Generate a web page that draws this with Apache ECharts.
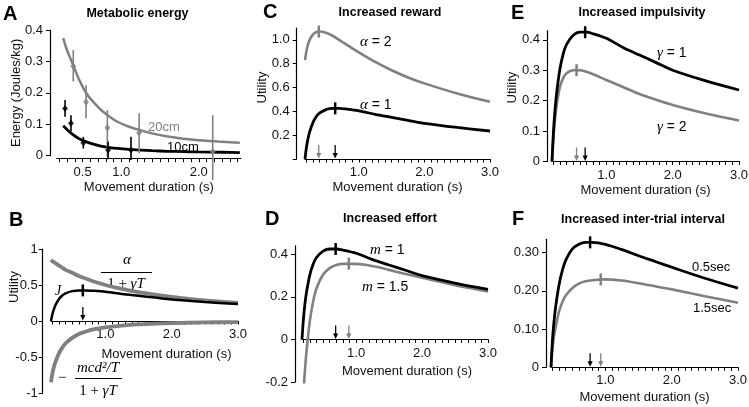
<!DOCTYPE html>
<html><head><meta charset="utf-8">
<script src="https://cdn.jsdelivr.net/npm/echarts@6.0.0/dist/echarts.min.js"></script>
<style>html,body{margin:0;padding:0;background:#fff}#c{width:749px;height:407px}</style>
</head><body><div id="c"></div>
<script>
// ---------- Panel A: metabolic energy ----------
const durA        = [0.25,0.3,0.38,0.45,0.55,0.65,0.75,0.85,0.95,1.1,1.25,1.4,1.6,1.8,2.0,2.3,2.53];
const energyFit20 = [0.374,0.335,0.288,0.245,0.198,0.168,0.143,0.124,0.108,0.092,0.081,0.071,0.061,0.054,0.049,0.044,0.041];
const energyFit10 = [0.095,0.083,0.066,0.055,0.044,0.036,0.030,0.026,0.023,0.020,0.018,0.016,0.014,0.013,0.012,0.011,0.010];
const dur10    = [0.274,0.35,0.51,0.83,1.125];
const energy10 = [0.150,0.103,0.041,0.018,0.018];
const lo10     = [0.124,0.077,0.023,-0.011,-0.014];
const hi10     = [0.177,0.129,0.060,0.044,0.060];
const dur20    = [0.38,0.545,0.82,1.23,2.18];
const energy20 = [0.285,0.171,0.089,0.073,0.013];
const lo20     = [0.236,0.119,-0.003,0.008,-0.077];
const hi20     = [0.336,0.224,0.145,0.135,0.129];
const xLabelsA = [0.5,1.0,2.0];
const yTicksA  = [0,0.1,0.2,0.3,0.4];

// ---------- Panels B-F: utility vs movement duration ----------
const dur         = [0.18,0.2,0.22,0.25,0.3,0.35,0.4,0.5,0.6,0.7,0.8,1.0,1.25,1.5,1.75,2.0,2.5,3.0];
const utility     = [0,0.09,0.155,0.225,0.305,0.355,0.385,0.415,0.425,0.425,0.42,0.405,0.375,0.35,0.325,0.30,0.265,0.235];
const rewardTerm  = [0.85,0.83,0.82,0.80,0.77,0.74,0.71,0.67,0.625,0.59,0.555,0.50,0.445,0.40,0.365,0.335,0.285,0.25];
const effortTerm  = [-0.85,-0.73,-0.65,-0.56,-0.45,-0.37,-0.31,-0.235,-0.18,-0.148,-0.12,-0.088,-0.063,-0.047,-0.036,-0.029,-0.02,-0.015];
const utilAlpha2  = [0.83,0.90,0.95,1.0,1.045,1.065,1.07,1.06,1.035,1.0,0.965,0.895,0.815,0.745,0.685,0.635,0.55,0.48];
const utilM15     = [null,-0.27,-0.165,-0.05,0.09,0.18,0.24,0.305,0.335,0.35,0.355,0.355,0.345,0.327,0.308,0.29,0.255,0.226];
const utilGamma2  = [0,0.075,0.125,0.185,0.245,0.275,0.29,0.30,0.30,0.295,0.287,0.268,0.245,0.222,0.203,0.186,0.158,0.135];
const utilITI05   = [0,0.066,0.11,0.158,0.215,0.253,0.279,0.309,0.322,0.327,0.327,0.322,0.308,0.292,0.277,0.262,0.233,0.207];
const utilITI15   = [0,0.045,0.075,0.105,0.145,0.17,0.187,0.207,0.219,0.225,0.228,0.230,0.227,0.22,0.212,0.204,0.186,0.169];

// optimal durations [black, gray] and utilities at them
const peakDurB = [0.66];        const peakUtilB = [0.425];
const peakDurC = [0.64, 0.39];  const peakUtilC = [0.425, 1.07];
const peakDurD = [0.69, 0.89];  const peakUtilD = [0.425, 0.356];
const peakDurE = [0.68, 0.55];  const peakUtilE = [0.425, 0.30];
const peakDurF = [0.77, 0.93];  const peakUtilF = [0.327, 0.230];

const xLabels = [1,2,3];
const yTicksB = [-1,-0.5,0,0.5,1];
const yTicksC = [0,0.2,0.4,0.6,0.8,1.0];
const yLabelsC = [0.2,0.4,0.6,0.8,1.0];
const yTicksD = [-0.2,0,0.2,0.4];
const yTicksE = [0,0.1,0.2,0.3,0.4];
const yTicksF = [0,0.1,0.2,0.3];

// ---------- styling ----------
const GRAY = '#808080', INK = '#000';
const SANS = '"Liberation Sans", Arial, sans-serif';
const SERIF = '"Liberation Serif", "DejaVu Serif", serif';

const ticksFrom = (a, b) => { const r = []; for (let k = Math.round(a*10); k <= Math.round(b*10); k++) r.push(k/10); return r; };
const pair = (xs, ys) => xs.map((x, i) => [x, ys[i]]);

const grids = [
  {left:56.7, top:30,    width:184.3, height:125.7},
  {left:51,   top:249,   width:187,   height:144},
  {left:305,  top:28,    width:185,   height:131},
  {left:302,  top:245.8, width:186,   height:136.3},
  {left:552,  top:30.7,  width:187,   height:130.8},
  {left:551,  top:239.3, width:187,   height:128}
].map(g => Object.assign(g, {outerBoundsMode:'none', containLabel:false}));

// y ranges per panel
const yRange = [[0,0.4],[-1,1],[0,1.1],[-0.2,0.44],[0,0.43],[0,0.335]];
// x axis sits at utility 0: shift it up from the grid bottom by the scale position of 0
const zeroShift = gi => -grids[gi].height * (0 - yRange[gi][0]) / (yRange[gi][1] - yRange[gi][0]);

const axLine = () => ({show:true, onZero:false, lineStyle:{color:INK, width:1.2}});
const lblStyle = {color:'#111', fontSize:13, fontFamily:SANS};

function mkX(gi, min, max, labels, o) {
  return {
    gridIndex: gi, type:'value', min, max, position:'bottom',
    axisLine: axLine(),
    offset: o.offset != null ? o.offset : zeroShift(gi),
    axisTick: {show:true, customValues: ticksFrom(0.2, max >= 2.9 ? 3.0 : 2.5), length:3.5, lineStyle:{color:INK, width:1}},
    axisLabel: Object.assign({customValues: labels, formatter: v => v.toFixed(1), margin: 7}, lblStyle),
    splitLine: {show:false},
    name: 'Movement duration (s)', nameLocation:'middle', nameGap: o.nameGap || 22, nameMoveOverlap:false,
    nameTextStyle: Object.assign({}, lblStyle, {padding: o.namePad || 0})
  };
}
function mkY(gi, ticks, labels, fmt, o) {
  return {
    gridIndex: gi, type:'value', min: yRange[gi][0], max: yRange[gi][1], offset: o.offset, position:'left',
    axisLine: axLine(),
    axisTick: {show:true, customValues: ticks, length:4, lineStyle:{color:INK, width:1}},
    axisLabel: Object.assign({customValues: labels, formatter: fmt, margin: o.margin || 7}, lblStyle),
    splitLine: {show:false},
    name: o.name || '', nameLocation:'middle', nameGap: o.nameGap || 28, nameMoveOverlap:false,
    nameTextStyle: Object.assign({}, lblStyle, {padding: o.namePad || 0})
  };
}

const f1 = v => v === 0 ? '0' : v.toFixed(1);
const xAxes = [
  mkX(0, 0.166, 2.545, xLabelsA, {offset:3, nameGap:22}),
  mkX(1, 0.18, 3.0, xLabels, {nameGap:27, namePad:[0,0,0,44]}),
  mkX(2, 0.18, 3.0, xLabels, {nameGap:22}),
  mkX(3, 0.18, 3.0, xLabels, {nameGap:25, namePad:[0,0,0,24]}),
  mkX(4, 0.18, 3.0, xLabels, {nameGap:22}),
  mkX(5, 0.18, 3.0, xLabels, {nameGap:24})
];
const yAxes = [
  mkY(0, yTicksA, yTicksA, f1, {offset:6.7, name:'Energy (Joules/kg)', nameGap:27}),
  mkY(1, yTicksB, yTicksB, v => String(v), {offset:8.3, margin:5, name:'Utility', nameGap:22, namePad:[0,0,0,68]}),
  mkY(2, yTicksC, yLabelsC, v => v.toFixed(1), {offset:8.3, name:'Utility', nameGap:28, namePad:[0,0,0,12]}),
  mkY(3, yTicksD, yTicksD, f1, {offset:7}),
  mkY(4, yTicksE, yTicksE, f1, {offset:5, name:'Utility', nameGap:28, namePad:[0,0,0,17]}),
  mkY(5, yTicksF, yTicksF, v => v === 0 ? '0' : v.toFixed(2), {offset:5})
];

function curve(gi, xs, ys, color, width, z) {
  return {type:'line', xAxisIndex:gi, yAxisIndex:gi, data: pair(xs, ys), showSymbol:false, smooth:0.3,
    connectNulls:false, silent:true, z: z || 2, lineStyle:{color, width}, itemStyle:{color}};
}
function peaks(gi, xs, ys, colors) {
  return {type:'custom', xAxisIndex:gi, yAxisIndex:gi, silent:true, z:5,
    data: xs.map((x, i) => [x, ys[i], i]),
    renderItem(params, api) {
      const p = api.coord([api.value(0), api.value(1)]);
      return {type:'line', shape:{x1:p[0], y1:p[1]-6, x2:p[0], y2:p[1]+6},
        style:{stroke: colors[api.value(2)], lineWidth:2.5}};
    }};
}
function arrows(gi, xs, colors) {
  return {type:'custom', xAxisIndex:gi, yAxisIndex:gi, silent:true, z:5,
    data: xs.map((x, i) => [x, 0, i]),
    renderItem(params, api) {
      const p = api.coord([api.value(0), 0]);
      const c = colors[api.value(2)];
      return {type:'group', children:[
        {type:'line', shape:{x1:p[0], y1:p[1]-14, x2:p[0], y2:p[1]-4}, style:{stroke:c, lineWidth:1.3}},
        {type:'polygon', shape:{points:[[p[0]-2.6,p[1]-6],[p[0]+2.6,p[1]-6],[p[0],p[1]-0.5]]}, style:{fill:c}}
      ]};
    }};
}
function errBars(gi, xs, lo, hi, color) {
  return {type:'custom', xAxisIndex:gi, yAxisIndex:gi, silent:true, z:3, clip:false,
    data: xs.map((x, i) => [x, lo[i], hi[i]]),
    renderItem(params, api) {
      const a = api.coord([api.value(0), api.value(1)]);
      const b = api.coord([api.value(0), api.value(2)]);
      return {type:'line', shape:{x1:a[0], y1:a[1], x2:b[0], y2:b[1]}, style:{stroke:color, lineWidth:1.6}};
    }};
}
function points(gi, xs, ys, color) {
  return {type:'scatter', xAxisIndex:gi, yAxisIndex:gi, silent:true, z:4, data: pair(xs, ys),
    symbol:'diamond', symbolSize:[6,7], itemStyle:{color}};
}

const series = [
  // A
  curve(0, durA, energyFit20, GRAY, 2.5),
  curve(0, durA, energyFit10, INK, 2.8),
  errBars(0, dur20, lo20, hi20, GRAY),
  errBars(0, dur10, lo10, hi10, INK),
  points(0, dur20, energy20, GRAY),
  points(0, dur10, energy10, INK),
  // B
  curve(1, dur, rewardTerm, GRAY, 3.8),
  curve(1, dur, effortTerm, GRAY, 3.8),
  curve(1, dur, utility, INK, 2.5, 3),
  peaks(1, peakDurB, peakUtilB, [INK]),
  arrows(1, peakDurB, [INK]),
  // C
  curve(2, dur, utilAlpha2, GRAY, 2.6),
  curve(2, dur, utility, INK, 2.8),
  peaks(2, peakDurC, peakUtilC, [INK, GRAY]),
  arrows(2, peakDurC, [INK, GRAY]),
  // D
  curve(3, dur, utilM15, GRAY, 2.6),
  curve(3, dur, utility, INK, 2.8, 3),
  peaks(3, peakDurD, peakUtilD, [INK, GRAY]),
  arrows(3, peakDurD, [INK, GRAY]),
  // E
  curve(4, dur, utilGamma2, GRAY, 2.6),
  curve(4, dur, utility, INK, 2.8, 3),
  peaks(4, peakDurE, peakUtilE, [INK, GRAY]),
  arrows(4, peakDurE, [INK, GRAY]),
  // F
  curve(5, dur, utilITI15, GRAY, 2.6),
  curve(5, dur, utilITI05, INK, 2.8, 3),
  peaks(5, peakDurF, peakUtilF, [INK, GRAY]),
  arrows(5, peakDurF, [INK, GRAY])
];

// ---------- text annotations ----------
const txt = (x, y, text, font, fill, align, rich) => ({type:'text', x, y, silent:true,
  style:{text, font, fill: fill || INK, align: align || 'left', verticalAlign:'middle', rich: rich || undefined}});
const hline = (x1, x2, y, color) => ({type:'line', silent:true, shape:{x1, y1:y, x2, y2:y}, style:{stroke: color || INK, lineWidth:1}});
const LETTER = 'bold 20px ' + SANS;
const TITLE = 'bold 12.5px ' + SANS;
const MATH = 'italic 15px ' + SERIF;
const richI = {i:{font: MATH, fill: INK}};
const richU = {u:{font: '15px ' + SERIF, fill: INK}, i:{font: MATH, fill: INK}};

const graphic = [
  txt(3, 14, 'A', LETTER), txt(9, 220.5, 'B', LETTER), txt(263, 12.5, 'C', LETTER),
  txt(265, 219.5, 'D', LETTER), txt(511, 13.5, 'E', LETTER), txt(512, 219.5, 'F', LETTER),
  txt(137.5, 14, 'Metabolic energy', TITLE, INK, 'center'),
  txt(390, 13, 'Increased reward', TITLE, INK, 'center'),
  txt(390, 219, 'Increased effort', TITLE, INK, 'center'),
  txt(642, 13, 'Increased impulsivity', TITLE, INK, 'center'),
  txt(643, 219.5, 'Increased inter-trial interval', TITLE, INK, 'center'),
  // A
  txt(148, 127, '20cm', '13px ' + SANS, GRAY),
  txt(167, 147, '10cm', '13px ' + SANS, INK),
  // B
  txt(127, 260, 'α', MATH, INK, 'center'),
  hline(101, 152, 272.5),
  txt(126, 284, '{u|1 + }{i|γT}', MATH, INK, 'center', richU),
  txt(55, 291, 'J', 'italic 14px ' + SERIF),
  txt(58, 378, '−', '15px ' + SERIF),
  txt(98, 368, 'mcd²/T', MATH, INK, 'center'),
  hline(75, 122, 378.5),
  txt(98, 391, '{u|1 + }{i|γT}', MATH, INK, 'center', richU),
  // C
  txt(360, 42, '{i|α} = 2', '14px ' + SANS, INK, 'left', richI),
  txt(360, 105, '{i|α} = 1', '14px ' + SANS, INK, 'left', richI),
  // D
  txt(370, 250, '{i|m} = 1', '14px ' + SANS, INK, 'left', richI),
  txt(362, 287, '{i|m} = 1.5', '14px ' + SANS, INK, 'left', richI),
  // E
  txt(657, 53, '{i|γ} = 1', '14px ' + SANS, INK, 'left', richI),
  txt(657, 127, '{i|γ} = 2', '14px ' + SANS, INK, 'left', richI),
  // F
  txt(692, 267, '0.5sec', '13px ' + SANS),
  txt(693, 308, '1.5sec', '13px ' + SANS)
];

const chart = echarts.init(document.getElementById('c'), null, {renderer:'canvas'});
chart.setOption({
  animation:false,
  backgroundColor:'#fff',
  textStyle:{fontFamily:SANS},
  grid: grids,
  xAxis: xAxes,
  yAxis: yAxes,
  series,
  graphic
});
</script>
</body></html>
